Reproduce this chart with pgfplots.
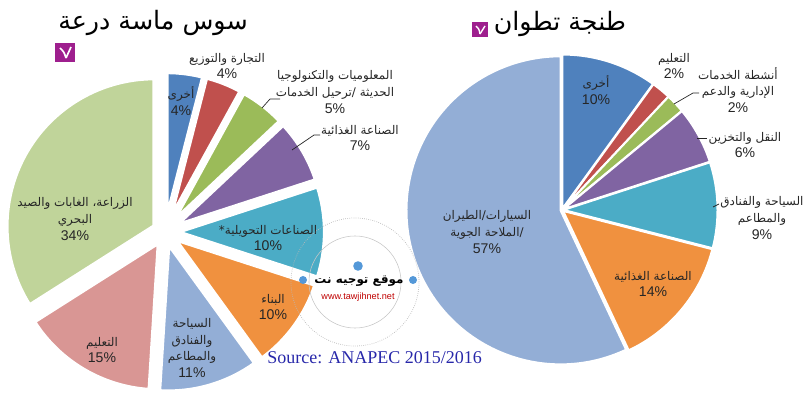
\documentclass[border=0pt]{standalone}
\usepackage{pgfplots}
\pgfplotsset{compat=1.18}
\usepackage{pgfplotstable}
\usepackage{fontspec}
\setmainfont{Liberation Sans}
\newfontfamily\arfont[Script=Arabic]{DejaVu Sans}
\newfontfamily\srcfont{Liberation Serif}
\TeXXeTstate=1

\definecolor{cBlue}{HTML}{4F81BD}
\definecolor{cRed}{HTML}{C0504D}
\definecolor{cGreen}{HTML}{9BBB59}
\definecolor{cPurple}{HTML}{8064A2}
\definecolor{cCyan}{HTML}{4BACC6}
\definecolor{cOrange}{HTML}{F0913F}
\definecolor{cLBlue}{HTML}{93AED6}
\definecolor{cPink}{HTML}{D99694}
\definecolor{cLGreen}{HTML}{C0D49A}
\definecolor{txt}{HTML}{262626}
\definecolor{srcblue}{RGB}{40,40,170}
\definecolor{logo}{HTML}{9E1F8E}

\tikzset{lbl/.style={align=center, text=txt, inner sep=0pt,
        font=\fontsize{10}{12}\selectfont}}

% Souss Massa Draa (clockwise from 12 o'clock)
\pgfplotstableread{
pct col
4  cBlue
4  cRed
5  cGreen
7  cPurple
10 cCyan
10 cOrange
11 cLBlue
15 cPink
34 cLGreen
}\leftdata

% Tanger Tetouan
\pgfplotstableread{
pct col
10 cBlue
2  cRed
2  cGreen
6  cPurple
9  cCyan
14 cOrange
57 cLBlue
}\rightdata

% #1 table, #2 cx, #3 cy (pixels, y down), #4 radius (px), #5 explode (px), #6 border
\newcommand{\drawpie}[6]{%
  \pgfplotstablegetrowsof{#1}%
  \pgfmathtruncatemacro\pielast{\pgfplotsretval-1}%
  \gdef\piecum{0}%
  \pgfplotsforeachungrouped \k in {0,...,\pielast}{%
    \pgfplotstablegetelem{\k}{pct}\of#1\let\pieval\pgfplotsretval
    \pgfplotstablegetelem{\k}{col}\of#1\let\piecol\pgfplotsretval
    \pgfmathsetmacro\pieA{90-3.6*\piecum}%
    \pgfmathsetmacro\pieB{90-3.6*(\piecum+\pieval)}%
    \pgfmathsetmacro\pieM{(\pieA+\pieB)/2}%
    \pgfmathsetmacro\pieX{#2+#5*cos(\pieM)}%
    \pgfmathsetmacro\pieY{#3-#5*sin(\pieM)}%
    \pgfmathsetmacro\pieR{#4*0.025}%
    \edef\temp{\noexpand\fill[\piecol, draw=white, line width=#6, line join=round]
      (axis cs:\pieX,\pieY) -- ++(\pieA:\pieR cm)
      arc[start angle=\pieA, end angle=\pieB, radius=\pieR cm] -- cycle;}%
    \temp
    \pgfmathsetmacro\newcum{\piecum+\pieval}%
    \global\let\piecum\newcum
  }%
}

\newcommand{\AR}[1]{{\arfont\fontsize{8.5}{12}\selectfont\beginR #1\endR}}

\begin{document}
\begin{tikzpicture}
\begin{axis}[
    hide axis,
    scale only axis,
    x=0.025cm, y=0.025cm,
    xmin=0, xmax=804, ymin=0, ymax=400,
    y dir=reverse,
    clip=false,
]
\coordinate (bbA) at (axis cs:0,0);
\coordinate (bbB) at (axis cs:804,400);

\drawpie{\leftdata}{165}{232}{148}{12}{3pt}
\drawpie{\rightdata}{562}{210}{154}{1.5}{1.4pt}

% titles
\node[font=\arfont\fontsize{18}{22}\selectfont, text=black] at (axis cs:153,23) {\beginR سوس ماسة درعة\endR};
\node[font=\arfont\fontsize{18}{22}\selectfont, text=black] at (axis cs:560,24) {\beginR طنجة تطوان\endR};
\fill[logo] (axis cs:55,43) rectangle (axis cs:75,62);
\fill[logo] (axis cs:472,22) rectangle (axis cs:488,37);
\draw[white, line width=1.2pt] (axis cs:60,48) .. controls (axis cs:64,52) .. (axis cs:66,58);
\draw[white, line width=1.2pt] (axis cs:71,47) -- (axis cs:66,58);
\draw[white, line width=1pt] (axis cs:476,26) .. controls (axis cs:479,29) .. (axis cs:480,34);
\draw[white, line width=1pt] (axis cs:485,26) -- (axis cs:480,34);

% leader lines
\draw[txt, line width=0.5pt] (axis cs:262,108) -- (axis cs:270,99) -- (axis cs:280,99);
\draw[txt, line width=0.5pt] (axis cs:292,150) -- (axis cs:314,135) -- (axis cs:320,135);
\draw[txt, line width=0.5pt] (axis cs:674,104) -- (axis cs:693,93) -- (axis cs:699,93);
\draw[txt, line width=0.5pt] (axis cs:697,138) -- (axis cs:707,138);
\draw[txt, line width=0.5pt] (axis cs:713,207) -- (axis cs:719,204);

% left labels
\node[lbl] at (axis cs:181,101) {\AR{أخرى}\\4\%};
\node[lbl] at (axis cs:227,66) {\AR{التجارة والتوزيع}\\4\%};
\node[lbl] at (axis cs:335,92) {\AR{المعلوميات والتكنولوجيا}\\\AR{الحديثة /ترحيل الخدمات}\\5\%};
\node[lbl] at (axis cs:360,138) {\AR{الصناعة الغذائية}\\7\%};
\node[lbl] at (axis cs:268,238) {\AR{الصناعات التحويلية*}\\10\%};
\node[lbl] at (axis cs:273,307) {\AR{البناء}\\10\%};
\node[lbl] at (axis cs:192,348) {\AR{السياحة}\\\AR{والفنادق}\\\AR{والمطاعم}\\11\%};
\node[lbl] at (axis cs:102,350) {\AR{التعليم}\\15\%};
\node[lbl] at (axis cs:75,219) {\AR{الزراعة، الغابات والصيد}\\\AR{البحري}\\34\%};

% right labels
\node[lbl] at (axis cs:596,90) {\AR{أخرى}\\10\%};
\node[lbl] at (axis cs:674,66) {\AR{التعليم}\\2\%};
\node[lbl] at (axis cs:738,90) {\AR{أنشطة الخدمات}\\\AR{الإدارية والدعم}\\2\%};
\node[lbl] at (axis cs:745,145) {\AR{النقل والتخزين}\\6\%};
\node[lbl] at (axis cs:762,218) {\AR{السياحة والفنادق}\\\AR{والمطاعم}\\9\%};
\node[lbl] at (axis cs:653,284) {\AR{الصناعة الغذائية}\\14\%};
\node[lbl] at (axis cs:487,232) {\AR{السيارات/الطيران}\\\AR{/الملاحة الجوية}\\57\%};

% watermark
\draw[gray!55, densely dotted, line width=0.5pt] (axis cs:355,282) circle[radius=1.6cm];
\draw[gray!45, line width=0.4pt] (axis cs:355,282) circle[radius=1.15cm];
\fill[cyan!60!blue!70] (axis cs:358,266) circle[radius=0.12cm];
\fill[cyan!60!blue!70] (axis cs:303,280) circle[radius=0.1cm];
\fill[cyan!60!blue!70] (axis cs:413,280) circle[radius=0.1cm];
\node[font=\arfont\bfseries\fontsize{8.5}{10}\selectfont, text=black] at (axis cs:359,281) {\beginR موقع توجيه نت\endR};
\node[font=\fontsize{6.5}{8}\selectfont, text=red!75!black] at (axis cs:358,297) {www.tawjihnet.net};

% source
\node[anchor=west, inner sep=0pt, text=srcblue, font=\srcfont\fontsize{12.8}{15}\selectfont] at (axis cs:267,358) {Source: ANAPEC 2015/2016};
\end{axis}
\pgfresetboundingbox
\path[use as bounding box] (bbA) rectangle (bbB);
\end{tikzpicture}
\end{document}
